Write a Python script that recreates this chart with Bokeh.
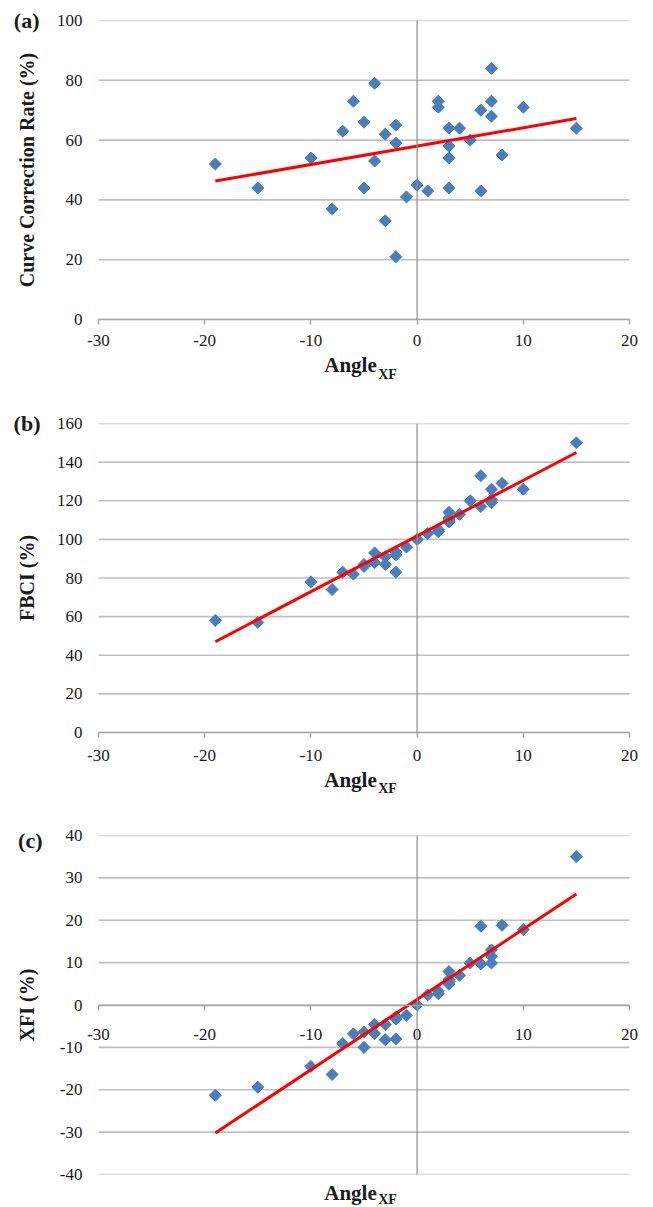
import numpy as np
from bokeh.plotting import figure
from bokeh.models import FixedTicker, Span, Range1d, LinearAxis
from bokeh.layouts import column
from bokeh.embed import file_html
from bokeh.resources import INLINE

# ---------------- data ----------------
angle_xf = [-19, -15, -10, -8, -7, -6, -5, -5, -4, -4, -3, -3, -2, -2, -2, -1, 0, 1,
            2, 2, 3, 3, 3, 3, 4, 5, 6, 6, 7, 7, 7, 8, 10, 15]
curve_correction = [52, 44, 54, 37, 63, 73, 66, 44, 79, 53, 62, 33, 65, 59, 21, 41, 45, 43,
                    73, 71, 64, 58, 54, 44, 64, 60, 70, 43, 84, 73, 68, 55, 71, 64]
fbci = [58, 57, 78, 74, 83, 82, 87, 86, 93, 88, 91, 87, 93.5, 92, 83, 96, 100, 103,
        105, 104, 114, 111, 109, 110, 113, 120, 133, 117, 126, 120.5, 119, 129, 126, 150]
xfi = [-21.3, -19.4, -14.5, -16.4, -9.1, -6.8, -10, -6.4, -4.6, -6.7, -4.6, -8.2, -3.3, -2.8,
       -8.0, -2.4, 0, 2.4, 2.7, 3.3, 7.9, 6.0, 5.5, 4.9, 7, 9.9, 18.6, 9.7, 13, 11.5, 9.9,
       18.8, 17.8, 35]

trend_x = [-19, 15]
trend_a = [46.3, 67.2]
trend_b = [47.0, 145.0]
trend_c = [-30.2, 26.2]

x_ticks = [-30, -20, -10, 0, 10, 20]
y_ticks_a = [0, 20, 40, 60, 80, 100]
y_ticks_b = [0, 20, 40, 60, 80, 100, 120, 140, 160]
y_ticks_c = [-40, -30, -20, -10, 0, 10, 20, 30, 40]

x_title = "Angle"
x_title_sub = "XF"

SERIF = "Liberation Serif"
BLUE = "#4A7EBB"
GRID = "#C0C0C0"
AXIS = "#A6A6A6"
TXT = "#1A1A1A"
PPU = 531 / 50.0  # pixels per x unit
EXT_L, EXT_R = 12, 20


def hyphen_labels(ticks):
    return {t: ("-%g" % abs(t)) if t < 0 else "%g" % t for t in ticks}


def make_panel(yvals, trend_y, y0, y1, y_ticks, ylabel, letter, letter_pos,
               top, frame_h, bottom, lab_standoff, axis_at_zero,
               letter_standoff, title_standoff, angle_standoff, xf_standoff):
    p = figure(frame_width=531 + EXT_L + EXT_R, frame_height=frame_h,
               min_border_left=98 - EXT_L, min_border_right=0,
               min_border_top=top, min_border_bottom=bottom,
               x_range=Range1d(x_ticks[0] - EXT_L / PPU, x_ticks[-1] + EXT_R / PPU),
               y_range=Range1d(y0, y1),
               toolbar_location=None, output_backend="svg", title=None)
    p.outline_line_color = None
    p.background_fill_color = "white"
    p.border_fill_color = "white"

    # horizontal gridlines spanning the x-axis extent only
    p.xgrid.grid_line_color = None
    p.ygrid.grid_line_color = None
    p.segment(x0=[x_ticks[0]] * len(y_ticks), x1=[x_ticks[-1]] * len(y_ticks),
              y0=y_ticks, y1=y_ticks, line_color=GRID, line_width=1.6)

    # y axis (tick labels only)
    p.yaxis.ticker = FixedTicker(ticks=y_ticks)
    p.yaxis.major_label_overrides = hyphen_labels(y_ticks)
    p.yaxis.axis_line_color = None
    p.yaxis.major_tick_line_color = None
    p.yaxis.major_tick_out = 0
    p.yaxis.major_tick_in = 0
    p.yaxis.minor_tick_line_color = None
    p.yaxis.major_label_standoff = 16 - EXT_L
    p.yaxis.major_label_text_font = SERIF
    p.yaxis.major_label_text_font_size = "17px"
    p.yaxis.major_label_text_color = TXT

    # outer left axis: panel letter + axis title
    ya2 = LinearAxis(ticker=FixedTicker(ticks=[letter_pos]),
                     major_label_overrides={letter_pos: letter})
    ya2.axis_line_color = None
    ya2.major_tick_line_color = None
    ya2.minor_tick_line_color = None
    ya2.major_tick_out = 0
    ya2.major_tick_in = 0
    ya2.major_label_standoff = letter_standoff
    ya2.major_label_text_font = SERIF
    ya2.major_label_text_font_style = "bold"
    ya2.major_label_text_font_size = "22px"
    ya2.major_label_text_color = TXT
    ya2.axis_label = ylabel
    ya2.axis_label_text_font = SERIF
    ya2.axis_label_text_font_style = "bold"
    ya2.axis_label_text_font_size = "20px"
    ya2.axis_label_text_color = TXT
    ya2.axis_label_standoff = title_standoff
    p.add_layout(ya2, "left")

    # x axis
    p.xaxis.ticker = FixedTicker(ticks=x_ticks)
    p.xaxis.major_label_overrides = hyphen_labels(x_ticks)
    p.xaxis.bounds = (x_ticks[0], x_ticks[-1])
    p.xaxis.axis_line_color = AXIS
    p.xaxis.axis_line_width = 1.5
    p.xaxis.major_tick_line_color = AXIS
    p.xaxis.major_tick_line_width = 1.5
    p.xaxis.major_tick_out = 5
    p.xaxis.major_tick_in = 0
    p.xaxis.minor_tick_line_color = None
    p.xaxis.major_label_standoff = lab_standoff
    p.xaxis.major_label_text_font = SERIF
    p.xaxis.major_label_text_font_size = "17px"
    p.xaxis.major_label_text_color = TXT
    if axis_at_zero:
        p.xaxis.fixed_location = 0

    # x axis title "Angle" with subscript "XF" (two label-only axes)
    angle_pos = -6.27
    xf_pos = -2.79
    xa2 = LinearAxis(ticker=FixedTicker(ticks=[angle_pos]),
                     major_label_overrides={angle_pos: x_title})
    xa3 = LinearAxis(ticker=FixedTicker(ticks=[xf_pos]),
                     major_label_overrides={xf_pos: x_title_sub})
    for ax, fs, so in ((xa2, "21px", angle_standoff), (xa3, "14px", xf_standoff)):
        ax.axis_line_color = None
        ax.major_tick_line_color = None
        ax.minor_tick_line_color = None
        ax.major_tick_out = 0
        ax.major_tick_in = 0
        ax.major_label_standoff = so
        ax.major_label_text_font = SERIF
        ax.major_label_text_font_style = "bold"
        ax.major_label_text_font_size = fs
        ax.major_label_text_color = TXT
        p.add_layout(ax, "below")

    # vertical axis line at x = 0
    p.add_layout(Span(location=0, dimension="height", line_color="#8C8C8C", line_width=1.2))

    p.scatter(angle_xf, yvals, marker="square", size=8.5, angle=np.pi / 4,
              fill_color=BLUE, line_color=BLUE)
    p.line(trend_x, trend_y, line_color="#FF0000", line_width=3)
    return p


pa = make_panel(curve_correction, trend_a, 0, 100, y_ticks_a, "Curve Correction Rate (%)",
                "(a)", 100, 20, 299, 76, 10, False,
                letter_standoff=14, title_standoff=-27, angle_standoff=4, xf_standoff=-13)
pb = make_panel(fbci, trend_b, 0, 160, y_ticks_b, "FBCI (%)",
                "(b)", 160, 28, 309, 68, 12, False,
                letter_standoff=13, title_standoff=-27, angle_standoff=4, xf_standoff=-14)
pc = make_panel(xfi, trend_c, -40, 40, y_ticks_c, "XFI (%)",
                "(c)", 38.8, 35, 339, 33, 19, True,
                letter_standoff=14, title_standoff=-23, angle_standoff=6, xf_standoff=-16)

layout = column(pa, pb, pc, spacing=0)

open("out.html", "w").write(file_html(layout, INLINE))
